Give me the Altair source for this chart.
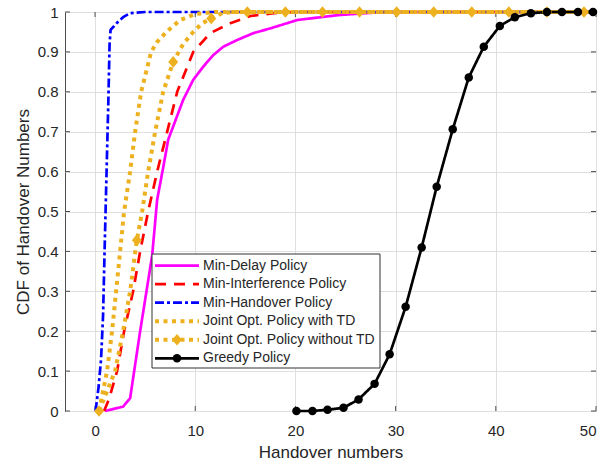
import altair as alt
import pandas as pd

# ---------------- data ----------------
series_names = ["Min-Delay Policy", "Min-Interference Policy", "Min-Handover Policy",
                "Joint Opt. Policy with TD", "Joint Opt. Policy without TD", "Greedy Policy"]
series_colors = ["#FF00FF", "#FF0000", "#0000FF", "#EDB120", "#EDB120", "#000000"]

md_x = [1.0, 2.8, 3.5, 4.5, 5.7, 6.2, 6.8, 7.3, 8.2, 8.8, 9.8, 10.8, 11.8, 12.8, 14.2, 15.8, 17.5, 20.2, 24.2, 27.5, 30.0, 50.0]
md_y = [0.0, 0.011, 0.032, 0.2, 0.39, 0.53, 0.61, 0.68, 0.74, 0.78, 0.83, 0.863, 0.892, 0.913, 0.93, 0.947, 0.959, 0.98, 0.992, 0.998, 1.0, 1.0]

mi_x = [0.9, 1.4, 2.2, 2.9, 3.8, 4.5, 5.3, 6.2, 7.2, 8.2, 9.8, 11.5, 13.5, 15.5, 17.8, 20.0, 50.0]
mi_y = [0.0, 0.03, 0.1, 0.2, 0.3, 0.4, 0.5, 0.6, 0.7, 0.8, 0.9, 0.947, 0.972, 0.99, 0.997, 1.0, 1.0]

mh_x = [0.05, 0.35, 0.6, 0.8, 0.95, 1.05, 1.2, 1.33, 1.45, 1.55, 2.2, 2.8, 3.5, 5.0, 50.0]
mh_y = [0.0, 0.06, 0.13, 0.24, 0.4, 0.5, 0.65, 0.78, 0.92, 0.955, 0.973, 0.987, 0.997, 1.0, 1.0]

jt_x = [0.4, 1.2, 1.7, 2.1, 2.5, 2.9, 3.5, 4.0, 4.6, 5.6, 6.2, 7.2, 8.5, 10.0, 12.0, 50.0]
jt_y = [0.0, 0.1, 0.2, 0.3, 0.4, 0.5, 0.6, 0.7, 0.8, 0.9, 0.925, 0.952, 0.98, 0.995, 1.0, 1.0]

jw_x = [0.4, 2.0, 2.8, 3.5, 4.17, 4.7, 5.3, 6.0, 6.8, 7.8, 8.8, 9.8, 10.7, 11.6, 12.7, 13.8, 15.2, 50.0]
jw_y = [0.0, 0.1, 0.2, 0.3, 0.428, 0.5, 0.6, 0.7, 0.8, 0.875, 0.92, 0.95, 0.972, 0.984, 0.997, 1.0, 1.0, 1.0]

# diamond markers on "Joint Opt. Policy without TD"
jw_mk_x = [0.4, 4.17, 7.8, 11.6, 15.2, 19.0, 22.7, 26.4, 30.1, 33.8, 37.6, 41.3, 45.1, 48.8]
jw_mk_y = [0.0, 0.428, 0.875, 0.984, 1.0, 1.0, 1.0, 1.0, 1.0, 1.0, 1.0, 1.0, 1.0, 1.0]

gr_x = [20.1, 21.7, 23.2, 24.8, 26.3, 27.9, 29.4, 31.0, 32.6, 34.1, 35.7, 37.3, 38.8, 40.4, 41.9, 43.5, 45.1, 46.6, 48.2, 49.7]
gr_y = [0.0, 0.0, 0.003, 0.008, 0.029, 0.068, 0.142, 0.261, 0.41, 0.562, 0.706, 0.836, 0.913, 0.965, 0.987, 0.997, 1.0, 1.0, 1.0, 1.0]

x_ticks = [0, 10, 20, 30, 40, 50]
y_ticks = [0, 0.1, 0.2, 0.3, 0.4, 0.5, 0.6, 0.7, 0.8, 0.9, 1.0]

# ---------------- tables ----------------
curves = [(md_x, md_y), (mi_x, mi_y), (mh_x, mh_y), (jt_x, jt_y), (jw_x, jw_y), (gr_x, gr_y)]
rows = []
for name, (xs, ys) in zip(series_names, curves):
    for i, (a, b) in enumerate(zip(xs, ys)):
        rows.append({"series": name, "x": a, "y": b, "i": i})
df_lines = pd.DataFrame(rows)

mk_rows = [{"series": series_names[4], "x": a, "y": b} for a, b in zip(jw_mk_x, jw_mk_y)]
mk_rows += [{"series": series_names[5], "x": a, "y": b} for a, b in zip(gr_x, gr_y)]
df_mk = pd.DataFrame(mk_rows)

df_leg = pd.DataFrame({"series": series_names, "row": list(range(len(series_names)))})

# ---------------- styles ----------------
W, H = 531, 399
FONT = "Liberation Sans"
TXT = "#262626"
FRAME = "#4d4d4d"

dashes = [[1, 0], [11, 8], [9, 3, 3, 3], [4, 4.5], [4, 4.5], [1, 0]]
widths = [2.7, 2.7, 2.7, 4, 4, 2.7]
diamond = "M0,-1.36L1.18,0L0,1.36L-1.18,0Z"

xscale = alt.Scale(domain=[-3, 50], nice=False, zero=False)
yscale = alt.Scale(domain=[0, 1], nice=False, zero=False)
cscale = alt.Scale(domain=series_names, range=series_colors)
dscale = alt.Scale(domain=series_names, range=dashes)
wscale = alt.Scale(type="ordinal", domain=series_names, range=widths)
sscale = alt.Scale(domain=series_names[4:], range=[diamond, "circle"])

xaxis = alt.Axis(values=x_ticks, title="Handover numbers", format="d",
                 labelPadding=12, titleY=41, titleBaseline="middle")
yaxis = alt.Axis(values=y_ticks, title="CDF of Handover Numbers", format=".1~f",
                 labelPadding=7, titleX=-42, titleBaseline="middle")

# inward tick marks
xt = alt.Chart(pd.DataFrame({"v": x_ticks}))
yt = alt.Chart(pd.DataFrame({"v": y_ticks}))
tick_kw = dict(color=FRAME, strokeWidth=1)
xb = xt.mark_rule(**tick_kw).encode(x=alt.X("v:Q", scale=xscale, axis=xaxis), y=alt.value(H), y2=alt.value(H - 5))
xtop = xt.mark_rule(**tick_kw).encode(x=alt.X("v:Q", scale=xscale, axis=xaxis), y=alt.value(0), y2=alt.value(5))
yl = yt.mark_rule(**tick_kw).encode(y=alt.Y("v:Q", scale=yscale, axis=yaxis), x=alt.value(0), x2=alt.value(5))
yr = yt.mark_rule(**tick_kw).encode(y=alt.Y("v:Q", scale=yscale, axis=yaxis), x=alt.value(W - 5), x2=alt.value(W))

lines = alt.Chart(df_lines).mark_line(strokeCap="butt", strokeJoin="round").encode(
    x=alt.X("x:Q", scale=xscale, axis=xaxis),
    y=alt.Y("y:Q", scale=yscale, axis=yaxis),
    color=alt.Color("series:N", scale=cscale, legend=None),
    strokeDash=alt.StrokeDash("series:N", scale=dscale, legend=None),
    strokeWidth=alt.StrokeWidth("series:N", scale=wscale, legend=None),
    order=alt.Order("i:Q"),
)

markers = alt.Chart(df_mk).mark_point(filled=True, size=72, opacity=1).encode(
    x=alt.X("x:Q", scale=xscale, axis=xaxis),
    y=alt.Y("y:Q", scale=yscale, axis=yaxis),
    color=alt.Color("series:N", scale=cscale, legend=None),
    shape=alt.Shape("series:N", scale=sscale, legend=None),
)

# ---------------- legend ----------------
LX0, LX1, LY0, LY1 = 87, 315, 242, 356
ROW0, DROW = 253.6, 18.55
box = alt.Chart(alt.Data(values=[{}])).mark_rect(fill="white", stroke="#333333", strokeWidth=1).encode(
    x=alt.value(LX0), x2=alt.value(LX1), y=alt.value(LY0), y2=alt.value(LY1))

leg = alt.Chart(df_leg).transform_calculate(py=f"{ROW0} + datum.row * {DROW}")
leg_lines = leg.mark_rule(strokeCap="butt").encode(
    x=alt.value(90), x2=alt.value(134),
    y=alt.Y("py:Q", scale=None, axis=None),
    color=alt.Color("series:N", scale=cscale, legend=None),
    strokeDash=alt.StrokeDash("series:N", scale=dscale, legend=None),
    strokeWidth=alt.StrokeWidth("series:N", scale=wscale, legend=None),
)
leg_marks = leg.transform_filter(alt.FieldOneOfPredicate(field="series", oneOf=series_names[4:])).mark_point(
    filled=True, size=72, opacity=1).encode(
    x=alt.value(112),
    y=alt.Y("py:Q", scale=None, axis=None),
    color=alt.Color("series:N", scale=cscale, legend=None),
    shape=alt.Shape("series:N", scale=sscale, legend=None),
)
leg_text = leg.mark_text(align="left", baseline="middle", font=FONT, fontSize=14, color=TXT).encode(
    x=alt.value(138),
    y=alt.Y("py:Q", scale=None, axis=None),
    text="series:N",
)

chart = alt.layer(xb, xtop, yl, yr, lines, markers, box, leg_lines, leg_marks, leg_text).properties(
    width=W, height=H,
    padding={"left": 65, "top": 12, "right": 20, "bottom": 55},
    autosize=alt.AutoSizeParams(type="none"),
).configure_view(stroke=FRAME, strokeWidth=1).configure_axis(
    domain=False, ticks=False, tickSize=0, grid=True, gridColor="#dfdfdf", gridWidth=1,
    labelFont=FONT, labelFontSize=15, labelColor=TXT,
    titleFont=FONT, titleFontSize=17, titleFontWeight="normal", titleColor=TXT,
)

chart.save("out.html", embed_options={"renderer": "svg", "actions": False})
